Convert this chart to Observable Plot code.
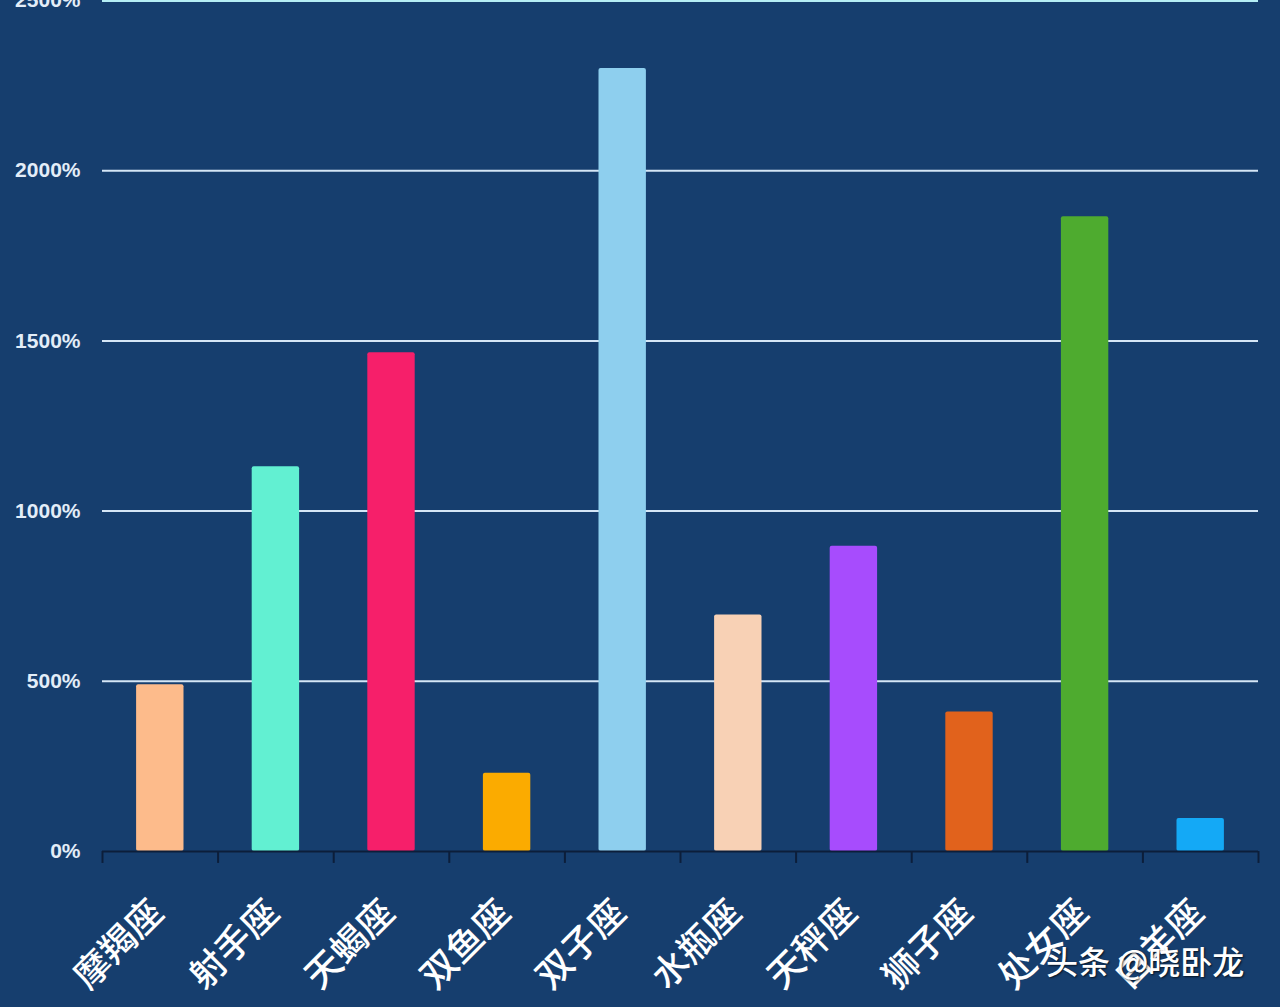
<!DOCTYPE html>
<html><head><meta charset="utf-8">
<script src="https://cdn.jsdelivr.net/npm/d3@7"></script>
<script src="https://cdn.jsdelivr.net/npm/@observablehq/plot@0.6"></script>
<style>
html,body{margin:0;padding:0;background:#163e6e;overflow:hidden;width:1280px;height:1007px}
#chart{position:relative;width:1280px;height:1007px}
#wm{position:absolute;left:1046px;top:937px;color:#fff;font:500 32px "Noto Sans CJK SC";text-shadow:1px 1px 2px rgba(0,0,0,0.7);white-space:nowrap}
</style></head><body><div id="chart"><div id="wm">头条 @晓卧龙</div></div>
<script>
const signs = ["摩羯座","射手座","天蝎座","双鱼座","双子座","水瓶座","天秤座","狮子座","处女座","白羊座"];
const values = [490, 1130, 1465, 230, 2300, 695, 897, 410, 1865, 97];
const colors = ["#fdbb8b","#62f0d2","#f61f6a","#fbab00","#8ecfee","#f8d1b5","#a74cfd","#e1621c","#4eab2f","#14a9f6"];
const yTicks = [0, 500, 1000, 1500, 2000, 2500];
const data = signs.map((s, i) => ({sign: s, value: values[i], color: colors[i]}));

const plot = Plot.plot({
  width: 1280, height: 1007,
  marginTop: 0, marginLeft: 102, marginRight: 22, marginBottom: 156,
  style: {background: "#163e6e", color: "#e3edf8", overflow: "visible"},
  x: {domain: signs, paddingInner: 0.59, paddingOuter: 0.295, round: false, axis: null},
  y: {domain: [0, 2500], label: null},
  color: {type: "identity"},
  marks: [
    Plot.ruleY(yTicks.filter(v => v > 0 && v < 2500), {stroke: "#d5e6f6", strokeWidth: 2}),
    Plot.ruleY([2500], {stroke: "#b5eef5", strokeWidth: 3}),
    Plot.barY(data, {x: "sign", y: "value", fill: "color", rx: 2}),
    Plot.ruleY([0], {stroke: "#0c1e3a", strokeWidth: 2}),
    Plot.ruleX(signs, {x: d => d, y1: 0, y2: -35, dx: -57.8, stroke: "#0c1e3a", strokeWidth: 2}),
    Plot.ruleX([signs[signs.length - 1]], {x: d => d, y1: 0, y2: -35, dx: 57.8, stroke: "#0c1e3a", strokeWidth: 2}),
    Plot.axisY({ticks: yTicks, tickFormat: d => d + "%", tickSize: 0, tickPadding: 22, fontSize: 21, fontWeight: "bold", fontFamily: "Liberation Sans", fill: "#e3edf8", label: null}),
    Plot.text(data, {x: "sign", y: 0, text: "sign", rotate: -45, textAnchor: "end", lineAnchor: "bottom", dx: 5, dy: 63, fill: "white", fontSize: 36, fontWeight: 500, fontFamily: "Noto Sans CJK SC"})
  ]
});
document.getElementById("chart").prepend(plot);
</script>
</body></html>
